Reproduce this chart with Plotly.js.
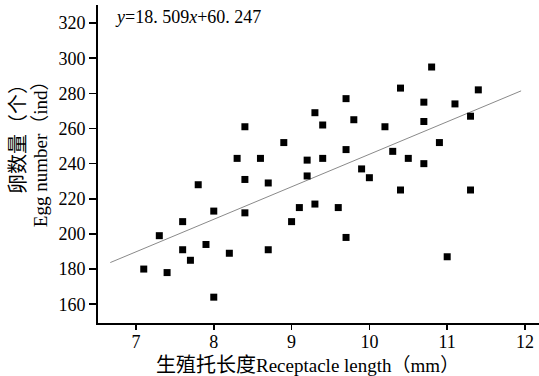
<!DOCTYPE html>
<html>
<head>
<meta charset="utf-8">
<script src="https://cdn.plot.ly/plotly-3.0.1.min.js"></script>
<style>html,body{margin:0;padding:0;background:#fff;}#chart{width:539px;height:376px;}</style>
</head>
<body>
<div id="chart"></div>
<script>
const receptacleLength = [7.1,7.3,7.4,7.6,7.6,7.7,7.8,7.9,8.0,8.0,8.2,8.3,8.4,8.4,8.4,8.6,8.7,8.7,8.9,9.0,9.1,9.2,9.2,9.3,9.3,9.4,9.4,9.6,9.7,9.7,9.7,9.8,9.9,10.0,10.2,10.3,10.4,10.4,10.5,10.7,10.7,10.7,10.8,10.9,11.0,11.1,11.3,11.3,11.4];
const eggNumber = [180,199,178,207,191,185,228,194,213,164,189,243,261,231,212,243,229,191,252,207,215,242,233,269,217,262,243,215,277,248,198,265,237,232,261,247,283,225,243,275,264,240,295,252,187,274,267,225,282];
const fitSlope = 18.509;
const fitIntercept = 60.247;
const fitXRange = [6.67, 11.95];
const xTicks = [7,8,9,10,11,12];
const yTicks = [160,180,200,220,240,260,280,300,320];
const xTitleCn = "生殖托长度";
const xTitleEn = "Receptacle length（mm）";
const yTitleCn = "卵数量（个）";
const yTitleEn = "Egg number（ind）";
const equationText = "<i>y</i>=18. 509<i>x</i>+60. 247";

const FONT = "Liberation Serif, Times New Roman, Noto Sans CJK SC, serif";

const traces = [
  {
    x: fitXRange,
    y: fitXRange.map(v => fitSlope * v + fitIntercept),
    mode: "lines",
    line: {color: "#8a8a8a", width: 1},
    hoverinfo: "skip",
    showlegend: false
  },
  {
    x: receptacleLength,
    y: eggNumber,
    mode: "markers",
    marker: {symbol: "square", size: 7, color: "#000"},
    showlegend: false
  }
];

const layout = {
  width: 539, height: 376,
  margin: {l: 98, r: 0, t: 5, b: 53},
  paper_bgcolor: "#fff", plot_bgcolor: "#fff",
  font: {family: FONT, color: "#000", size: 18},
  xaxis: {
    range: [6.512, 12.18],
    tickvals: xTicks, ticktext: xTicks.map(String),
    ticks: "outside", ticklen: 5, tickwidth: 1.5, tickcolor: "#000",
    ticklabelstandoff: -4,
    showline: true, linecolor: "#000", linewidth: 2,
    showgrid: false, zeroline: false,
    tickfont: {family: FONT, size: 18}
  },
  yaxis: {
    range: [149.3, 330.3],
    tickvals: yTicks, ticktext: yTicks.map(String),
    ticks: "outside", ticklen: 7, tickwidth: 1.5, tickcolor: "#000",
    showline: true, linecolor: "#000", linewidth: 2,
    showgrid: false, zeroline: false,
    tickfont: {family: FONT, size: 18}
  },
  annotations: [
    {text: equationText, xref: "paper", yref: "paper", x: 0.034, y: 0.962,
     xanchor: "left", yanchor: "middle", showarrow: false,
     font: {family: FONT, size: 18}},
    {text: '<span style="font-size:20px">' + xTitleCn + '</span>' + xTitleEn,
     xref: "paper", yref: "paper", x: (307-98)/441, y: (322.7-365)/317.7,
     xanchor: "center", yanchor: "middle", showarrow: false,
     font: {family: FONT, size: 19}},
    {text: yTitleCn, xref: "paper", yref: "paper", x: (18-98)/441, y: (322.7-134)/317.7,
     xanchor: "center", yanchor: "middle", textangle: -90, showarrow: false,
     font: {family: FONT, size: 20}},
    {text: yTitleEn, xref: "paper", yref: "paper", x: (40-98)/441, y: (322.7-149)/317.7,
     xanchor: "center", yanchor: "middle", textangle: -90, showarrow: false,
     font: {family: FONT, size: 19}}
  ]
};

Plotly.newPlot("chart", traces, layout, {displayModeBar: false, staticPlot: true});
</script>
</body>
</html>
